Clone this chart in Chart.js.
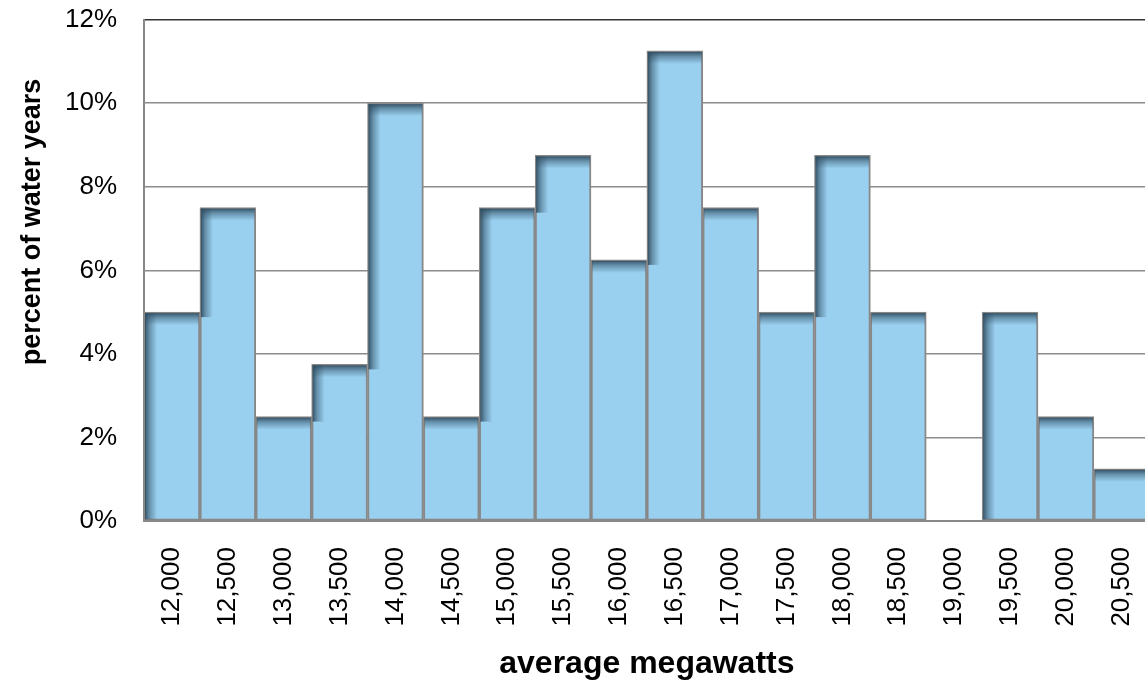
<!DOCTYPE html>
<html>
<head>
<meta charset="utf-8">
<script src="https://cdn.jsdelivr.net/npm/chart.js@4.4.0/dist/chart.umd.min.js"></script>
<style>
  html, body { margin: 0; padding: 0; background: #fff; overflow: hidden; }
  .chart-box { width: 1171px; height: 706px; margin-top: -23px; }
</style>
</head>
<body>
<div class="chart-box"><canvas id="histChart"></canvas></div>
<script>
const binLabels = ["12,000", "12,500", "13,000", "13,500", "14,000", "14,500", "15,000", "15,500", "16,000",
  "16,500", "17,000", "17,500", "18,000", "18,500", "19,000", "19,500", "20,000", "20,500"];
const percentYears = [5, 7.5, 2.5, 3.75, 10, 2.5, 7.5, 8.75, 6.25, 11.25, 7.5, 5, 8.75, 5, 0, 5, 2.5, 1.25];
const yTicks = [0, 2, 4, 6, 8, 10, 12];
const yTitle = "percent of water years";
const xTitle = "average megawatts";

const fontFamily = "'Liberation Sans', Arial, sans-serif";

// inner shadow along the top and exposed left edge of each bar (Excel-style)
const innerShadow = {
  id: 'innerShadow',
  afterDatasetsDraw(chart) {
    const ctx = chart.ctx;
    const bars = chart.getDatasetMeta(0).data;
    ctx.save();
    bars.forEach((bar, i) => {
      const p = bar.getProps(['x', 'y', 'base', 'width'], true);
      if (p.base - p.y < 2) return;
      const left = p.x - p.width / 2;
      const top = p.y;
      const g = ctx.createLinearGradient(0, top + 1, 0, top + 13);
      g.addColorStop(0, 'rgba(45,75,95,0.9)');
      g.addColorStop(0.4, 'rgba(45,75,95,0.45)');
      g.addColorStop(1, 'rgba(45,75,95,0)');
      ctx.fillStyle = g;
      ctx.fillRect(left + 1, top + 1, p.width - 2, 12);

      let exposedBottom = p.base;
      if (i > 0) {
        const prev = bars[i - 1].getProps(['y', 'base'], true);
        if (prev.base - prev.y >= 2) exposedBottom = Math.max(top, prev.y + 6);
      }
      if (exposedBottom - top > 2) {
        const h = ctx.createLinearGradient(left + 1, 0, left + 13, 0);
        h.addColorStop(0, 'rgba(45,75,95,0.9)');
        h.addColorStop(0.4, 'rgba(45,75,95,0.45)');
        h.addColorStop(1, 'rgba(45,75,95,0)');
        ctx.fillStyle = h;
        ctx.fillRect(left + 1, top + 1, 12, Math.min(exposedBottom, p.base) - top - 2);
      }
    });
    ctx.restore();
  }
};

// y axis title sits higher than the centre of the axis in the original
const sideTitle = {
  id: 'sideTitle',
  afterDraw(chart) {
    const ctx = chart.ctx;
    ctx.save();
    ctx.translate(33, 245);
    ctx.rotate(-Math.PI / 2);
    ctx.font = "bold 27px " + fontFamily;
    ctx.fillStyle = '#000';
    ctx.textAlign = 'center';
    ctx.textBaseline = 'middle';
    ctx.fillText(yTitle, 0, 0);
    ctx.restore();
  }
};

const ctx = document.getElementById('histChart').getContext('2d');
new Chart(ctx, {
  type: 'bar',
  data: {
    labels: binLabels,
    datasets: [{
      label: yTitle,
      data: percentYears,
      backgroundColor: '#99cfef',
      borderColor: '#888888',
      borderWidth: 2,
      borderSkipped: false,
      categoryPercentage: 1,
      barPercentage: 1
    }]
  },
  options: {
    responsive: true,
    maintainAspectRatio: false,
    animation: false,
    layout: { padding: { left: 38, top: 0, right: 0, bottom: 0 } },
    plugins: {
      legend: { display: false },
      tooltip: { enabled: false }
    },
    scales: {
      x: {
        grid: { display: false },
        border: { display: true, color: '#888888', width: 2 },
        ticks: {
          color: '#000',
          font: { family: fontFamily, size: 26 },
          minRotation: 90,
          maxRotation: 90,
          padding: 18,
          autoSkip: false
        },
        title: {
          display: true,
          text: xTitle,
          color: '#000',
          font: { family: fontFamily, size: 32, weight: 'bold' },
          padding: { top: 0, bottom: 0 }
        }
      },
      y: {
        min: 0,
        max: 12,
        afterBuildTicks(axis) {
          axis.ticks = yTicks.map(v => ({ value: v }));
        },
        grid: {
          drawTicks: false,
          lineWidth: 1.5,
          color: c => (c.tick && c.tick.value === 12 ? '#333333' : '#8c8c8c')
        },
        border: { display: true, color: '#888888', width: 2 },
        ticks: {
          color: '#000',
          font: { family: fontFamily, size: 26 },
          padding: 27,
          callback: v => v + '%'
        }
      }
    }
  },
  plugins: [innerShadow, sideTitle]
});
</script>
</body>
</html>
